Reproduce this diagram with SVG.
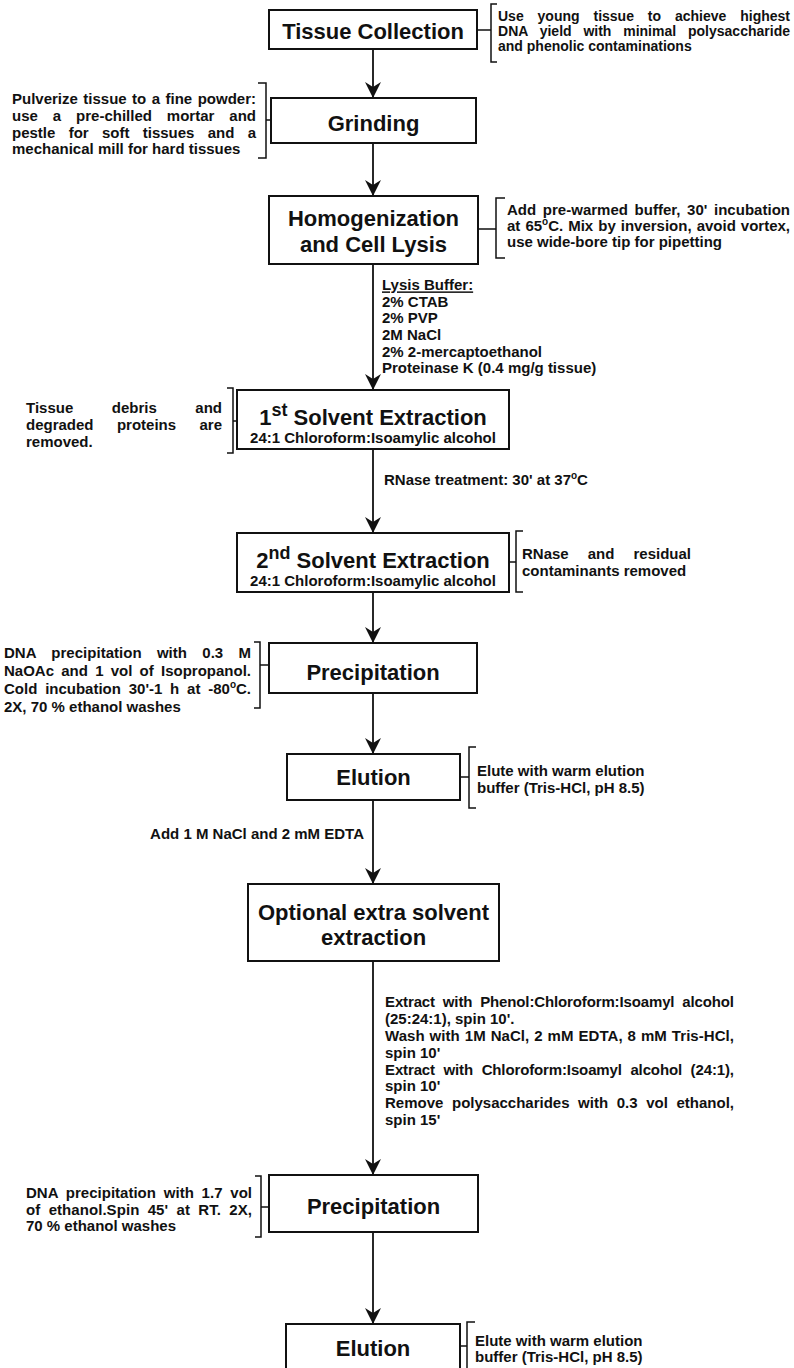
<svg xmlns="http://www.w3.org/2000/svg" width="794" height="1368" viewBox="0 0 794 1368">
<defs>
<style>
text{font-family:"Liberation Sans",Arial,Helvetica,sans-serif;font-weight:bold;fill:#111}
.t{font-size:22px;text-anchor:middle}
.s{font-size:15px}
.sm{font-size:14px}
.c{text-anchor:middle}
.box{fill:#fff;stroke:#111;stroke-width:2}
.br{fill:none;stroke:#111;stroke-width:1.5}
.conn{fill:none;stroke:#111;stroke-width:1.8;marker-end:url(#ah)}
</style>
<marker id="ah" markerUnits="userSpaceOnUse" markerWidth="16" markerHeight="16" viewBox="0 0 16 16" refX="16" refY="8" orient="auto"><path d="M0,0 L16,8 L0,16 L5,8 Z" fill="#111"/></marker>
</defs>
<rect width="794" height="1368" fill="#fff"/>

<g id="connectors">
<path class="conn" d="M373,49 V98"/>
<path class="conn" d="M373,143 V196"/>
<path class="conn" d="M373,264 V390"/>
<path class="conn" d="M373,449 V533"/>
<path class="conn" d="M373,592 V643"/>
<path class="conn" d="M373,693 V754"/>
<path class="conn" d="M373,800 V884"/>
<path class="conn" d="M373,961 V1175"/>
<path class="conn" d="M373,1232 V1324"/>
<g id="label-lysis">
<text class="s" x="382" y="290.4" text-decoration="underline">Lysis Buffer:</text>
<text class="s" x="382" y="307.4">2% CTAB</text>
<text class="s" x="382" y="323.4">2% PVP</text>
<text class="s" x="382" y="340.4">2M NaCl</text>
<text class="s" x="382" y="357.4">2% 2-mercaptoethanol</text>
<text class="s" x="382" y="373.4">Proteinase K (0.4 mg/g tissue)</text>
</g>
<text id="label-rnase" class="s" x="384" y="484.5">RNase treatment: 30' at 37<tspan font-size="10" dy="-6">o</tspan><tspan dy="6">C</tspan></text>
<text id="label-nacl" class="s" x="364" y="839" text-anchor="end">Add 1 M NaCl and 2 mM EDTA</text>
<g id="label-extract">
<text class="s" x="385" y="1007.4" word-spacing="3.87" textLength="349" lengthAdjust="spacing">Extract with Phenol:Chloroform:Isoamyl alcohol</text>
<text class="s" x="385" y="1024.2">(25:24:1), spin 10'.</text>
<text class="s" x="385" y="1041" word-spacing="0.71" textLength="349" lengthAdjust="spacing">Wash with 1M NaCl, 2 mM EDTA, 8 mM Tris-HCl,</text>
<text class="s" x="385" y="1057.8">spin 10'</text>
<text class="s" x="385" y="1074.6" word-spacing="4.57" textLength="349" lengthAdjust="spacing">Extract with Chloroform:Isoamyl alcohol (24:1),</text>
<text class="s" x="385" y="1091.4">spin 10'</text>
<text class="s" x="385" y="1108.2" word-spacing="4.46" textLength="349" lengthAdjust="spacing">Remove polysaccharides with 0.3 vol ethanol,</text>
<text class="s" x="385" y="1125">spin 15'</text>
</g>
</g>

<g id="node-tissue-collection">
<rect class="box" x="269" y="10" width="208" height="39"/>
<text class="t" x="373" y="39">Tissue Collection</text>
<path class="br" d="M497,4 H491 V62 H497 M477,30 H491"/>
<text class="sm" x="498" y="20.5" word-spacing="10" textLength="292" lengthAdjust="spacing">Use young tissue to achieve highest</text>
<text class="sm" x="498" y="35.5" word-spacing="7.9" textLength="292" lengthAdjust="spacing">DNA yield with minimal polysaccharide</text>
<text class="sm" x="498" y="50.5">and phenolic contaminations</text>
</g>

<g id="node-grinding">
<rect class="box" x="271" y="98" width="205" height="45"/>
<text class="t" x="373.5" y="131">Grinding</text>
<path class="br" d="M258,83 H266 V158 H258 M266,120 H271"/>
<text class="s" x="12" y="104.4" word-spacing="1.3" textLength="244" lengthAdjust="spacing">Pulverize tissue to a fine powder:</text>
<text class="s" x="12" y="121.4" word-spacing="10.8" textLength="244" lengthAdjust="spacing">use a pre-chilled mortar and</text>
<text class="s" x="12" y="138.4" word-spacing="9.1" textLength="244" lengthAdjust="spacing">pestle for soft tissues and a</text>
<text class="s" x="12" y="154.4">mechanical mill for hard tissues</text>
</g>

<g id="node-homogenization">
<rect class="box" x="269" y="196" width="209" height="68"/>
<text class="t" x="373.5" y="226">Homogenization</text>
<text class="t" x="373.5" y="252">and Cell Lysis</text>
<path class="br" d="M505,198 H496 V258 H505 M478,229 H496"/>
<text class="s" x="507" y="215.4" word-spacing="2.35" textLength="283" lengthAdjust="spacing">Add pre-warmed buffer, 30' incubation</text>
<text class="s" x="507" y="231.4" word-spacing="0.9" textLength="283" lengthAdjust="spacing">at 65<tspan font-size="10" dy="-6">o</tspan><tspan dy="6">C. Mix by inversion, avoid vortex,</tspan></text>
<text class="s" x="507" y="247.4">use wide-bore tip for pipetting</text>
</g>

<g id="node-solvent-1">
<rect class="box" x="237" y="390" width="272" height="59"/>
<text class="t" x="373" y="425">1<tspan font-size="18" dy="-9">st</tspan><tspan dy="9"> Solvent Extraction</tspan></text>
<text class="s c" x="373" y="443">24:1 Chloroform:Isoamylic alcohol</text>
<path class="br" d="M227,388 H233 V453 H227 M233,421 H237"/>
<text class="s" x="26" y="413.4" word-spacing="34.2" textLength="196" lengthAdjust="spacing">Tissue debris and</text>
<text class="s" x="26" y="430.4" word-spacing="19.2" textLength="196" lengthAdjust="spacing">degraded proteins are</text>
<text class="s" x="26" y="447">removed.</text>
</g>

<g id="node-solvent-2">
<rect class="box" x="237" y="533" width="272" height="59"/>
<text class="t" x="373" y="568">2<tspan font-size="18" dy="-9">nd</tspan><tspan dy="9"> Solvent Extraction</tspan></text>
<text class="s c" x="373" y="585.5">24:1 Chloroform:Isoamylic alcohol</text>
<path class="br" d="M523,531 H516 V592 H523 M509,562 H516"/>
<text class="s" x="522" y="559" word-spacing="14.9" textLength="169" lengthAdjust="spacing">RNase and residual</text>
<text class="s" x="522" y="575.5">contaminants removed</text>
</g>

<g id="node-precipitation-1">
<rect class="box" x="269" y="643" width="208" height="50"/>
<text class="t" x="373" y="679.5">Precipitation</text>
<path class="br" d="M254,642 H260 V708 H254 M260,665 H269"/>
<text class="s" x="4" y="658" word-spacing="11.1" textLength="247" lengthAdjust="spacing">DNA precipitation with 0.3 M</text>
<text class="s" x="4" y="676" word-spacing="3.06" textLength="247" lengthAdjust="spacing">NaOAc and 1 vol of Isopropanol.</text>
<text class="s" x="4" y="694" word-spacing="3.66" textLength="247" lengthAdjust="spacing">Cold incubation 30'-1 h at -80<tspan font-size="10" dy="-6">o</tspan><tspan dy="6">C.</tspan></text>
<text class="s" x="4" y="712">2X, 70 % ethanol washes</text>
</g>

<g id="node-elution-1">
<rect class="box" x="287" y="754" width="173" height="46"/>
<text class="t" x="373.5" y="785">Elution</text>
<path class="br" d="M476,747 H469 V808 H476 M460,777 H469"/>
<text class="s" x="477" y="776">Elute with warm elution</text>
<text class="s" x="477" y="792.6">buffer (Tris-HCl, pH 8.5)</text>
</g>

<g id="node-optional-extraction">
<rect class="box" x="248" y="884" width="251" height="77"/>
<text class="t" x="373.5" y="920">Optional extra solvent</text>
<text class="t" x="373.5" y="945">extraction</text>
</g>

<g id="node-precipitation-2">
<rect class="box" x="269" y="1175" width="209" height="57"/>
<text class="t" x="373.5" y="1214">Precipitation</text>
<path class="br" d="M255,1176 H261 V1237 H255 M261,1207 H269"/>
<text class="s" x="26" y="1197.5" word-spacing="3.6" textLength="226" lengthAdjust="spacing">DNA precipitation with 1.7 vol</text>
<text class="s" x="26" y="1214.5" word-spacing="4.14" textLength="226" lengthAdjust="spacing">of ethanol.Spin 45' at RT. 2X,</text>
<text class="s" x="26" y="1231">70 % ethanol washes</text>
</g>

<g id="node-elution-2">
<rect class="box" x="286" y="1324" width="174" height="46"/>
<text class="t" x="373" y="1356">Elution</text>
<path class="br" d="M475,1322 H467 V1372 M460,1346 H467"/>
<text class="s" x="475" y="1346">Elute with warm elution</text>
<text class="s" x="475" y="1362">buffer (Tris-HCl, pH 8.5)</text>
</g>
</svg>
